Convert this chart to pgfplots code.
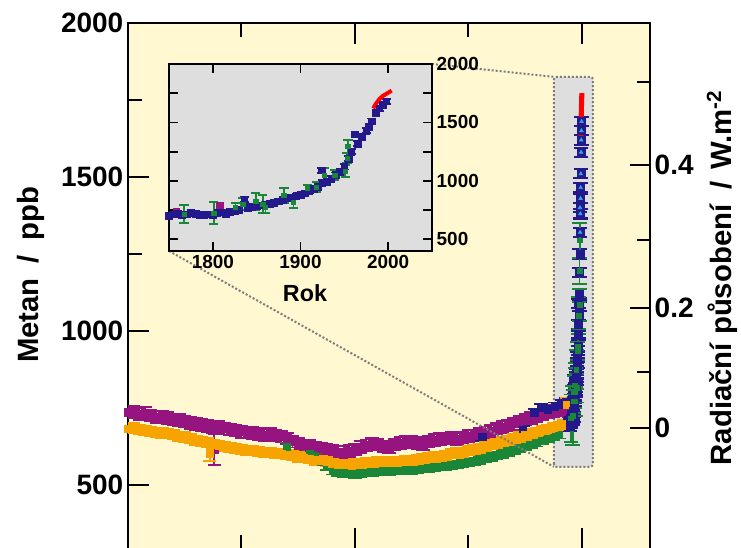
\documentclass[border=0pt]{standalone}
\usepackage{pgfplots}
\pgfplotsset{compat=1.18}
\usepackage{pgfplotstable}
\usepackage{fontspec}
\setmainfont{Liberation Sans}

\definecolor{bgyellow}{RGB}{255,248,208}
\definecolor{boxgray}{RGB}{222,222,222}
\definecolor{cpurple}{RGB}{150,20,128}
\definecolor{corange}{RGB}{247,163,0}
\definecolor{cgreen}{RGB}{25,135,55}
\definecolor{cnavy}{RGB}{35,25,140}
\definecolor{ccyan}{RGB}{40,170,225}
\definecolor{dotgray}{RGB}{125,125,125}

% ice cores, years before 2005
\pgfplotstableread{
x y e
-10000 735 19
-9875 738 19
-9750 730 19
-9625 733 19
-9500 725 19
-9375 720 19
-9250 722 19
-9125 716 19
-9000 712 19
-8875 710 19
-8750 705 19
-8625 700 19
-8500 698 19
-8375 694 19
-8250 690 19
-8125 686 19
-8100 615 50
-8000 688 19
-7875 682 19
-7750 680 19
-7625 676 19
-7500 672 19
-7375 670 19
-7250 668 19
-7125 665 19
-7000 662 19
-6875 664 19
-6750 660 19
-6625 656 19
-6500 650 19
-6375 640 19
-6250 632 19
-6125 628 19
-6000 625 19
-5875 620 19
-5750 618 19
-5625 612 19
-5500 610 19
-5375 606 19
-5250 605 19
-5125 610 19
-5000 615 19
-4875 622 19
-4750 628 19
-4625 632 19
-4500 630 19
-4375 624 19
-4250 622 19
-4125 630 19
-4000 635 19
-3875 638 19
-3750 640 19
-3625 636 19
-3500 632 19
-3375 640 19
-3250 645 19
-3125 648 19
-3000 650 19
-2875 652 19
-2750 648 19
-2625 654 19
-2500 658 19
-2375 660 19
-2250 665 19
-2125 670 19
-2000 675 19
-1875 682 19
-1750 688 19
-1625 692 19
-1500 698 19
-1375 705 19
-1250 712 19
-1125 716 19
-1000 722 19
-875 728 19
-750 735 19
-625 740 19
-500 745 19
-400 742 19
-300 740 19
}\purple

\pgfplotstableread{
x y e
-10000 682 15
-9875 685 15
-9750 678 15
-9625 676 15
-9500 672 15
-9375 670 15
-9250 668 15
-9125 665 15
-9000 662 15
-8875 658 15
-8750 655 15
-8625 650 15
-8500 645 15
-8375 640 15
-8250 636 15
-8200 602 25
-8125 632 15
-8000 628 15
-7875 625 15
-7750 622 15
-7625 618 15
-7500 615 15
-7375 612 15
-7250 610 15
-7125 607 15
-7000 605 15
-6875 604 15
-6750 602 15
-6625 600 15
-6500 598 15
-6375 594 15
-6250 590 15
-6125 588 15
-6000 585 15
-5875 580 15
-5750 578 15
-5625 574 15
-5500 570 15
-5375 567 15
-5250 566 15
-5125 566 15
-5000 568 15
-4875 570 15
-4750 572 15
-4625 573 15
-4500 574 15
-4375 574 15
-4250 575 15
-4125 575 15
-4000 576 15
-3875 578 15
-3750 580 15
-3625 582 15
-3500 584 15
-3375 587 15
-3250 590 15
-3125 593 15
-3000 596 15
-2875 600 15
-2750 603 15
-2625 606 15
-2500 610 15
-2375 614 15
-2250 618 15
-2125 624 15
-2000 630 15
-1875 635 15
-1750 640 15
-1625 645 15
-1500 650 15
-1375 655 15
-1250 660 15
-1125 665 15
-1000 670 15
-875 675 15
-750 680 15
-625 685 15
-500 690 15
-400 695 15
-330 760 22
-250 700 15
}\orange

\pgfplotstableread{
x y e
-6500 622 15
-6000 602 12
-5875 590 12
-5750 575 12
-5625 560 12
-5500 545 12
-5375 540 12
-5250 538 12
-5125 536 12
-5000 535 12
-4875 538 12
-4750 540 12
-4625 541 12
-4500 542 12
-4375 543 12
-4250 544 12
-4125 545 12
-4000 546 12
-3875 547 12
-3750 548 12
-3625 550 12
-3500 552 12
-3375 554 12
-3250 556 12
-3125 558 12
-3000 560 12
-2875 562 12
-2750 565 12
-2625 568 12
-2500 572 12
-2375 576 12
-2250 580 12
-2125 585 12
-2000 590 12
-1875 595 12
-1750 600 12
-1625 606 12
-1500 612 12
-1375 618 12
-1250 624 12
-1125 630 12
-1000 636 12
-875 643 12
-750 650 12
-625 656 12
-500 662 12
}\greenold

\pgfplotstableread{
x y
-2200 655
-1300 678
-1050 735
-900 750
-750 745
-600 755
-450 762
-350 770
}\navyold

% last 250 years
\pgfplotstableread{
yr ppb
1745 690
1750 700
1755 715
1760 720
1765 705
1770 715
1775 730
1780 720
1785 712
1790 708
1795 715
1800 710
1805 725
1810 730
1815 718
1820 735
1825 740
1830 752
1836 840
1840 770
1845 780
1850 785
1855 790
1860 800
1865 805
1870 815
1875 825
1880 840
1885 850
1890 860
1895 870
1900 880
1905 895
1910 915
1915 935
1920 950
1924 1090
1925 985
1930 990
1935 1020
1940 1050
1945 1080
1950 1120
1955 1190
1958 1250
1962 1400
1965 1320
1970 1380
1975 1430
1978 1465
1981 1510
1986 1580
1990 1620
1994 1650
1998 1680
}\navy

\pgfplotstableread{
yr ppb err
1767 716 77
1801 725 95
1826 771 38
1834 801 52
1849 823 73
1857 801 77
1860 771 47
1881 874 64
1892 814 47
1908 934 30
1918 947 43
1927 1050 60
1939 1050 43
1951 1084 51
1953 1195 42
1954 1294 56
}\green

\pgfplotstableread{
yr ppb
1758 742
1808 790
}\purplemod

\pgfplotstableread{
yr ppb
1983 1620
1986 1660
1990 1700
1994 1727
1998 1745
2004 1772
}\red

\begin{document}
\begin{tikzpicture}
\begin{axis}[at={(96pt,-1pt)},anchor=south west,
  width=391.5pt,height=394.75pt,scale only axis,
  xmin=-10000,xmax=1500,ymin=290,ymax=2000,
  axis background/.style={fill=bgyellow},
  axis line style={line width=1.5pt},
  scaled x ticks=false,
  xtick={-10000,-5000,0},minor xtick={-7500,-2500},xticklabels={,,},
  xticklabel style={yshift=40pt},
  ytick={500,1000,1500,2000},minor ytick={750,1250,1750},
  yticklabels={500,1000,1500,2000},
  ytick pos=left,tick align=inside,
  major tick length=15.75pt,minor tick length=10.5pt,
  major tick style={line width=1.5pt,black},
  minor tick style={line width=1.5pt,black},
  yticklabel style={font=\fontsize{21}{24}\selectfont\bfseries},
  error bars/error bar style={line width=1.4pt},
  ]
  \fill[boxgray,rounded corners=2pt] (axis cs:-617,558) rectangle (axis cs:242,1825);
  \draw[dotgray,line width=1.5pt,dash pattern=on 1.5pt off 1.5pt,rounded corners=2pt]
    (axis cs:-617,558) rectangle (axis cs:242,1825);
  \coordinate (bTL) at (axis cs:-617,1825);
  \coordinate (bBL) at (axis cs:-617,558);

  \addplot[only marks,cpurple,mark=square*,mark size=3pt,
    error bars/.cd,y dir=both,y explicit,
    error mark options={rotate=90,mark size=5pt,line width=1.4pt}]
    table[x=x,y=y,y error=e]{\purple};
  \addplot[only marks,cnavy,mark=square*,mark size=2.8pt,
    error bars/.cd,y dir=both,y fixed=12,
    error mark options={rotate=90,mark size=5pt,line width=1.4pt}]
    table[x=x,y=y]{\navyold};
  \addplot[only marks,cgreen,mark=square*,mark size=2.6pt,
    error bars/.cd,y dir=both,y explicit,
    error mark options={rotate=90,mark size=5pt,line width=1.4pt}]
    table[x=x,y=y,y error=e]{\greenold};
  \addplot[only marks,corange,mark=square*,mark size=2.8pt,
    error bars/.cd,y dir=both,y explicit,
    error mark options={rotate=90,mark size=5pt,line width=1.4pt}]
    table[x=x,y=y,y error=e]{\orange};

  \addplot[only marks,cnavy,mark=square*,mark size=3pt,
    error bars/.cd,y dir=both,y fixed=15,
    error mark options={rotate=90,mark size=5.5pt,line width=1.6pt}]
    table[x expr=\thisrow{yr}-2005,y=ppb]{\navy};
  \addplot[only marks,ccyan,mark=triangle*,mark size=1.6pt,
    restrict y to domain=1300:2000]
    table[x expr=\thisrow{yr}-2005,y=ppb]{\navy};
  \addplot[only marks,cgreen,mark=square*,mark size=1.8pt,
    error bars/.cd,y dir=both,y explicit,
    error mark options={rotate=90,mark size=5.5pt,line width=1.4pt}]
    table[x expr=\thisrow{yr}-2005,y=ppb,y error=err]{\green};
  \addplot[red,line width=3.8pt,no marks]
    table[x expr=\thisrow{yr}-2005,y=ppb]{\red};
\end{axis}

\begin{axis}[at={(96pt,-1pt)},anchor=south west,
  width=391.5pt,height=394.75pt,scale only axis,
  xmin=-10000,xmax=1500,ymin=290,ymax=2000,
  hide x axis,axis y line*=right,
  axis line style={line width=1.5pt,-},
  ytick={685,1075,1539},yticklabels={0,0.2,0.4},
  minor ytick={867,1295,1808},
  tick align=inside,
  major tick length=15pt,minor tick length=9.75pt,
  major tick style={line width=1.5pt,black},
  minor tick style={line width=1.5pt,black},
  yticklabel style={font=\fontsize{21}{24}\selectfont\bfseries},
  ]
  \addplot[draw=none] coordinates {(0,685)};
\end{axis}

\draw[dotgray,line width=1.5pt,dash pattern=on 1.5pt off 1.5pt] (324pt,363pt) -- (bTL);
\draw[dotgray,line width=1.5pt,dash pattern=on 1.5pt off 1.5pt] (126.75pt,222.75pt) -- (bBL);

\begin{axis}[at={(126.75pt,222.75pt)},anchor=south west,
  width=197.25pt,height=140.25pt,scale only axis,
  xmin=1750,xmax=2050,ymin=400,ymax=2000,
  axis background/.style={fill=boxgray},
  axis line style={line width=1.5pt},
  xtick={1800,1900,2000},xticklabels={1800,1900,2000},
  ytick={500,750,...,2000},yticklabels={500,,1000,,1500,,2000},
  yticklabel pos=right,tick align=inside,
  major tick length=6.5pt,
  major tick style={line width=1.3pt,black},
  tick label style={font=\fontsize{14.2}{16}\selectfont\bfseries},
  error bars/error bar style={line width=1.2pt},
  ]
  \addplot[only marks,cpurple,mark=square*,mark size=2.4pt]
    table[x=yr,y=ppb]{\purplemod};
  \addplot[only marks,cnavy,mark=square*,mark size=2.5pt,
    error bars/.cd,y dir=both,y fixed=22,
    error mark options={rotate=90,mark size=3.2pt,line width=1.2pt}]
    table[x=yr,y=ppb]{\navy};
  \addplot[only marks,cgreen,mark=square*,mark size=1.6pt,
    error bars/.cd,y dir=both,y explicit,
    error mark options={rotate=90,mark size=3.5pt,line width=1.2pt}]
    table[x=yr,y=ppb,y error=err]{\green};
  \addplot[red,line width=3pt,no marks] table[x=yr,y=ppb]{\red};
\end{axis}

\node[font=\fontsize{17.5}{20}\selectfont\bfseries] at (228.75pt,191.25pt) {Rok};
\node[rotate=90,font=\fontsize{22}{26}\selectfont\bfseries] at (23.25pt,204.75pt)
  {Metan\hspace{0.5em}/\hspace{0.5em}ppb};
\node[rotate=90,font=\fontsize{22}{26}\selectfont\bfseries] at (541.5pt,202.5pt)
  {Radiační působení\hspace{0.5em}/\hspace{0.4em}W.m\textsuperscript{-2}};

\pgfresetboundingbox
\useasboundingbox (0,0) rectangle (555.75pt,411pt);
\end{tikzpicture}
\end{document}
